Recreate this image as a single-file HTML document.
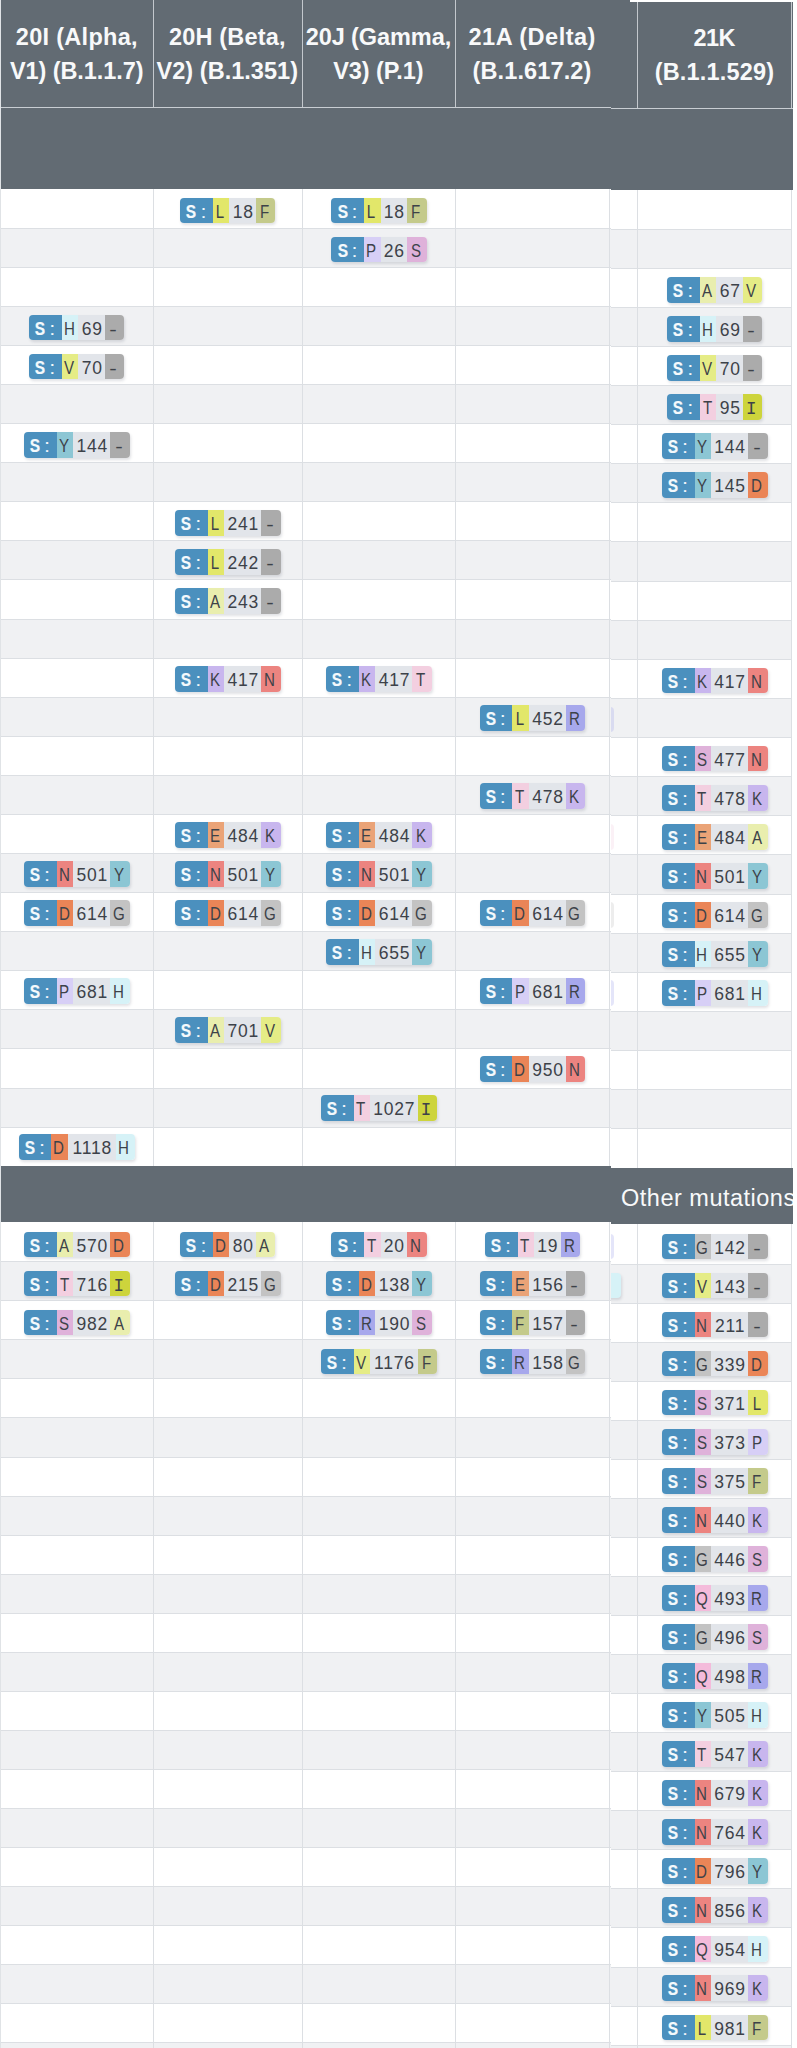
<!DOCTYPE html>
<html><head><meta charset="utf-8"><title>Shared mutations</title>
<style>
html,body{margin:0;padding:0;background:#fff;}
body{width:797px;height:2048px;position:relative;overflow:hidden;font-family:"Liberation Sans",sans-serif;}
.p{position:absolute;top:0;height:2048px;overflow:hidden;}
.r{position:absolute;left:0;right:0;border-top:1px solid #dcdfe3;box-sizing:border-box;}
.o{background:#f0f1f3;}
.v{position:absolute;width:1px;background:#dcdfe3;}
.h{position:absolute;background:#626b73;}
.hl{position:absolute;height:1px;background:#c9ced3;}
.hv{position:absolute;width:1px;background:#c3c8cd;}
.t{position:absolute;color:#f8f9fa;font-weight:bold;font-size:23.5px;line-height:34.6px;text-align:center;white-space:nowrap;}
.b{position:absolute;height:25.8px;display:flex;border-radius:4px;box-shadow:1px 2px 3px rgba(60,70,90,.16);font-size:17.5px;line-height:29.8px;color:#3d4249;overflow:hidden;}
.b span{display:block;height:100%;text-align:center;flex:none;}
.g{background:#4b90be;color:#f4f9fc;font-weight:normal;-webkit-text-stroke:.2px #f4f9fc;position:relative;font-size:18px;line-height:29.5px;}
.g b{position:absolute;left:4.2px;top:0;width:14px;text-align:center;transform:scaleX(.86);}
.g i{position:absolute;left:19.1px;top:0;width:8px;text-align:center;font-style:normal;}
.n{background:#e2e5ea;letter-spacing:.77px;box-sizing:border-box;padding-left:1px;}
.a{box-sizing:border-box;padding-right:1.8px;font-size:18px;line-height:29.1px;}
.z{padding-right:2.6px;}
.z em{font-style:normal;display:inline-block;position:relative;top:1px;transform:scaleX(1.25);}
.a u{display:inline-block;text-decoration:none;transform:scaleX(.84);}
.a u.m{font-family:"Liberation Mono",monospace;transform:none;font-size:17.5px;}
</style></head><body>

<div class="p" style="left:0;width:611px">
<div class="r" style="top:188.60px;height:39.68px;border-top-color:transparent"></div><div class="r o" style="top:227.68px;height:39.68px"></div><div class="r" style="top:266.77px;height:39.68px"></div><div class="r o" style="top:305.85px;height:39.68px"></div><div class="r" style="top:344.93px;height:39.68px"></div><div class="r o" style="top:384.01px;height:39.68px"></div><div class="r" style="top:423.10px;height:39.68px"></div><div class="r o" style="top:462.18px;height:39.68px"></div><div class="r" style="top:501.26px;height:39.68px"></div><div class="r o" style="top:540.35px;height:39.68px"></div><div class="r" style="top:579.43px;height:39.68px"></div><div class="r o" style="top:618.51px;height:39.68px"></div><div class="r" style="top:657.60px;height:39.68px"></div><div class="r o" style="top:696.68px;height:39.68px"></div><div class="r" style="top:735.76px;height:39.68px"></div><div class="r o" style="top:774.85px;height:39.68px"></div><div class="r" style="top:813.93px;height:39.68px"></div><div class="r o" style="top:853.01px;height:39.68px"></div><div class="r" style="top:892.09px;height:39.68px"></div><div class="r o" style="top:931.18px;height:39.68px"></div><div class="r" style="top:970.26px;height:39.68px"></div><div class="r o" style="top:1009.34px;height:39.68px"></div><div class="r" style="top:1048.43px;height:39.68px"></div><div class="r o" style="top:1087.51px;height:39.68px"></div><div class="r" style="top:1126.59px;height:39.68px"></div>
<div class="r" style="top:1222.15px;height:39.66px;border-top-color:transparent"></div><div class="r o" style="top:1261.21px;height:39.66px"></div><div class="r" style="top:1300.27px;height:39.66px"></div><div class="r o" style="top:1339.33px;height:39.66px"></div><div class="r" style="top:1378.39px;height:39.66px"></div><div class="r o" style="top:1417.45px;height:39.66px"></div><div class="r" style="top:1456.51px;height:39.66px"></div><div class="r o" style="top:1495.57px;height:39.66px"></div><div class="r" style="top:1534.63px;height:39.66px"></div><div class="r o" style="top:1573.69px;height:39.66px"></div><div class="r" style="top:1612.75px;height:39.66px"></div><div class="r o" style="top:1651.81px;height:39.66px"></div><div class="r" style="top:1690.87px;height:39.66px"></div><div class="r o" style="top:1729.93px;height:39.66px"></div><div class="r" style="top:1768.99px;height:39.66px"></div><div class="r o" style="top:1808.05px;height:39.66px"></div><div class="r" style="top:1847.11px;height:39.66px"></div><div class="r o" style="top:1886.17px;height:39.66px"></div><div class="r" style="top:1925.23px;height:39.66px"></div><div class="r o" style="top:1964.29px;height:39.66px"></div><div class="r" style="top:2003.35px;height:39.66px"></div><div class="r o" style="top:2042.41px;height:39.66px"></div>
<div class="v" style="left:153.0px;top:0;height:2048px"></div>
<div class="v" style="left:302.2px;top:0;height:2048px"></div>
<div class="v" style="left:455.3px;top:0;height:2048px"></div>
<div class="v" style="left:609.2px;top:0;height:2048px"></div>
<div class="h" style="left:0;top:0;width:611px;height:188.6px"></div>
<div class="hl" style="left:0;top:106.5px;width:611px"></div>
<div class="hv" style="left:153.0px;top:0;height:107px"></div>
<div class="hv" style="left:302.2px;top:0;height:107px"></div>
<div class="hv" style="left:455.3px;top:0;height:107px"></div>
<div class="h" style="left:0;top:1166.4px;width:611px;height:55.84999999999991px"></div>
<div class="t" style="left:0.8px;width:151.9px;top:19.5px"><span style="letter-spacing:0.3px;margin-right:-0.3px">20I (Alpha,</span><br><span style="letter-spacing:-0.08px;margin-right:0.08px">V1) (B.1.1.7)</span></div>
<div class="t" style="left:152.7px;width:149.2px;top:19.5px"><span style="letter-spacing:0.2px;margin-right:-0.2px">20H (Beta,</span><br><span style="letter-spacing:0.03px;margin-right:-0.03px">V2) (B.1.351)</span></div>
<div class="t" style="left:301.9px;width:153.1px;top:19.5px"><span style="letter-spacing:-0.08px;margin-right:0.08px">20J (Gamma,</span><br><span style="letter-spacing:-0.08px;margin-right:0.08px">V3) (P.1)</span></div>
<div class="t" style="left:455.0px;width:153.9px;top:19.5px"><span style="letter-spacing:0.5px;margin-right:-0.5px">21A (Delta)</span><br><span style="letter-spacing:0.12px;margin-right:-0.12px">(B.1.617.2)</span></div>
<div class="b" style="left:180.3px;top:197.6px;width:95.2px"><span class="g" style="width:32.7px"><b>S</b><i>:</i></span><span class="a" style="width:16.5px;background:#e2e76a"><u>L</u></span><span class="n" style="width:26.6px">18</span><span class="a z" style="width:19.4px;background:#c4ca8b"><u>F</u></span></div>
<div class="b" style="left:331.4px;top:197.6px;width:95.2px"><span class="g" style="width:32.7px"><b>S</b><i>:</i></span><span class="a" style="width:16.5px;background:#e2e76a"><u>L</u></span><span class="n" style="width:26.6px">18</span><span class="a z" style="width:19.4px;background:#c4ca8b"><u>F</u></span></div>
<div class="b" style="left:331.4px;top:236.6px;width:95.2px"><span class="g" style="width:32.7px"><b>S</b><i>:</i></span><span class="a" style="width:16.5px;background:#d7cff6"><u>P</u></span><span class="n" style="width:26.6px">26</span><span class="a z" style="width:19.4px;background:#dfb2da"><u>S</u></span></div>
<div class="b" style="left:29.2px;top:314.7px;width:95.2px"><span class="g" style="width:32.7px"><b>S</b><i>:</i></span><span class="a" style="width:16.5px;background:#d6f2f7"><u>H</u></span><span class="n" style="width:26.6px">69</span><span class="a z" style="width:19.4px;background:#ababab"><em>-</em></span></div>
<div class="b" style="left:29.2px;top:353.7px;width:95.2px"><span class="g" style="width:32.7px"><b>S</b><i>:</i></span><span class="a" style="width:16.5px;background:#e5ec86"><u>V</u></span><span class="n" style="width:26.6px">70</span><span class="a z" style="width:19.4px;background:#ababab"><em>-</em></span></div>
<div class="b" style="left:24.0px;top:431.8px;width:105.7px"><span class="g" style="width:32.7px"><b>S</b><i>:</i></span><span class="a" style="width:16.5px;background:#8cc6d4"><u>Y</u></span><span class="n" style="width:37.1px">144</span><span class="a z" style="width:19.4px;background:#ababab"><em>-</em></span></div>
<div class="b" style="left:175.1px;top:509.8px;width:105.7px"><span class="g" style="width:32.7px"><b>S</b><i>:</i></span><span class="a" style="width:16.5px;background:#e2e76a"><u>L</u></span><span class="n" style="width:37.1px">241</span><span class="a z" style="width:19.4px;background:#ababab"><em>-</em></span></div>
<div class="b" style="left:175.1px;top:548.9px;width:105.7px"><span class="g" style="width:32.7px"><b>S</b><i>:</i></span><span class="a" style="width:16.5px;background:#e2e76a"><u>L</u></span><span class="n" style="width:37.1px">242</span><span class="a z" style="width:19.4px;background:#ababab"><em>-</em></span></div>
<div class="b" style="left:175.1px;top:587.9px;width:105.7px"><span class="g" style="width:32.7px"><b>S</b><i>:</i></span><span class="a" style="width:16.5px;background:#e9eeae"><u>A</u></span><span class="n" style="width:37.1px">243</span><span class="a z" style="width:19.4px;background:#ababab"><em>-</em></span></div>
<div class="b" style="left:175.1px;top:666.0px;width:105.7px"><span class="g" style="width:32.7px"><b>S</b><i>:</i></span><span class="a" style="width:16.5px;background:#c8b6ee"><u>K</u></span><span class="n" style="width:37.1px">417</span><span class="a z" style="width:19.4px;background:#ec8480"><u>N</u></span></div>
<div class="b" style="left:326.2px;top:666.0px;width:105.7px"><span class="g" style="width:32.7px"><b>S</b><i>:</i></span><span class="a" style="width:16.5px;background:#c8b6ee"><u>K</u></span><span class="n" style="width:37.1px">417</span><span class="a z" style="width:19.4px;background:#f3cfe0"><u>T</u></span></div>
<div class="b" style="left:479.7px;top:705.0px;width:105.7px"><span class="g" style="width:32.7px"><b>S</b><i>:</i></span><span class="a" style="width:16.5px;background:#e2e76a"><u>L</u></span><span class="n" style="width:37.1px">452</span><span class="a z" style="width:19.4px;background:#a7a8ec"><u>R</u></span></div>
<div class="b" style="left:479.7px;top:783.1px;width:105.7px"><span class="g" style="width:32.7px"><b>S</b><i>:</i></span><span class="a" style="width:16.5px;background:#f3cfe0"><u>T</u></span><span class="n" style="width:37.1px">478</span><span class="a z" style="width:19.4px;background:#c8b6ee"><u>K</u></span></div>
<div class="b" style="left:175.1px;top:822.1px;width:105.7px"><span class="g" style="width:32.7px"><b>S</b><i>:</i></span><span class="a" style="width:16.5px;background:#eaa377"><u>E</u></span><span class="n" style="width:37.1px">484</span><span class="a z" style="width:19.4px;background:#c8b6ee"><u>K</u></span></div>
<div class="b" style="left:326.2px;top:822.1px;width:105.7px"><span class="g" style="width:32.7px"><b>S</b><i>:</i></span><span class="a" style="width:16.5px;background:#eaa377"><u>E</u></span><span class="n" style="width:37.1px">484</span><span class="a z" style="width:19.4px;background:#c8b6ee"><u>K</u></span></div>
<div class="b" style="left:24.0px;top:861.1px;width:105.7px"><span class="g" style="width:32.7px"><b>S</b><i>:</i></span><span class="a" style="width:16.5px;background:#ec8480"><u>N</u></span><span class="n" style="width:37.1px">501</span><span class="a z" style="width:19.4px;background:#8cc6d4"><u>Y</u></span></div>
<div class="b" style="left:175.1px;top:861.1px;width:105.7px"><span class="g" style="width:32.7px"><b>S</b><i>:</i></span><span class="a" style="width:16.5px;background:#ec8480"><u>N</u></span><span class="n" style="width:37.1px">501</span><span class="a z" style="width:19.4px;background:#8cc6d4"><u>Y</u></span></div>
<div class="b" style="left:326.2px;top:861.1px;width:105.7px"><span class="g" style="width:32.7px"><b>S</b><i>:</i></span><span class="a" style="width:16.5px;background:#ec8480"><u>N</u></span><span class="n" style="width:37.1px">501</span><span class="a z" style="width:19.4px;background:#8cc6d4"><u>Y</u></span></div>
<div class="b" style="left:24.0px;top:900.1px;width:105.7px"><span class="g" style="width:32.7px"><b>S</b><i>:</i></span><span class="a" style="width:16.5px;background:#ea8557"><u>D</u></span><span class="n" style="width:37.1px">614</span><span class="a z" style="width:19.4px;background:#c3c3c3"><u>G</u></span></div>
<div class="b" style="left:175.1px;top:900.1px;width:105.7px"><span class="g" style="width:32.7px"><b>S</b><i>:</i></span><span class="a" style="width:16.5px;background:#ea8557"><u>D</u></span><span class="n" style="width:37.1px">614</span><span class="a z" style="width:19.4px;background:#c3c3c3"><u>G</u></span></div>
<div class="b" style="left:326.2px;top:900.1px;width:105.7px"><span class="g" style="width:32.7px"><b>S</b><i>:</i></span><span class="a" style="width:16.5px;background:#ea8557"><u>D</u></span><span class="n" style="width:37.1px">614</span><span class="a z" style="width:19.4px;background:#c3c3c3"><u>G</u></span></div>
<div class="b" style="left:479.7px;top:900.1px;width:105.7px"><span class="g" style="width:32.7px"><b>S</b><i>:</i></span><span class="a" style="width:16.5px;background:#ea8557"><u>D</u></span><span class="n" style="width:37.1px">614</span><span class="a z" style="width:19.4px;background:#c3c3c3"><u>G</u></span></div>
<div class="b" style="left:326.2px;top:939.2px;width:105.7px"><span class="g" style="width:32.7px"><b>S</b><i>:</i></span><span class="a" style="width:16.5px;background:#d6f2f7"><u>H</u></span><span class="n" style="width:37.1px">655</span><span class="a z" style="width:19.4px;background:#8cc6d4"><u>Y</u></span></div>
<div class="b" style="left:24.0px;top:978.2px;width:105.7px"><span class="g" style="width:32.7px"><b>S</b><i>:</i></span><span class="a" style="width:16.5px;background:#d7cff6"><u>P</u></span><span class="n" style="width:37.1px">681</span><span class="a z" style="width:19.4px;background:#d6f2f7"><u>H</u></span></div>
<div class="b" style="left:479.7px;top:978.2px;width:105.7px"><span class="g" style="width:32.7px"><b>S</b><i>:</i></span><span class="a" style="width:16.5px;background:#d7cff6"><u>P</u></span><span class="n" style="width:37.1px">681</span><span class="a z" style="width:19.4px;background:#a7a8ec"><u>R</u></span></div>
<div class="b" style="left:175.1px;top:1017.2px;width:105.7px"><span class="g" style="width:32.7px"><b>S</b><i>:</i></span><span class="a" style="width:16.5px;background:#e9eeae"><u>A</u></span><span class="n" style="width:37.1px">701</span><span class="a z" style="width:19.4px;background:#e5ec86"><u>V</u></span></div>
<div class="b" style="left:479.7px;top:1056.3px;width:105.7px"><span class="g" style="width:32.7px"><b>S</b><i>:</i></span><span class="a" style="width:16.5px;background:#ea8557"><u>D</u></span><span class="n" style="width:37.1px">950</span><span class="a z" style="width:19.4px;background:#ec8480"><u>N</u></span></div>
<div class="b" style="left:320.9px;top:1095.3px;width:116.2px"><span class="g" style="width:32.7px"><b>S</b><i>:</i></span><span class="a" style="width:16.5px;background:#f3cfe0"><u>T</u></span><span class="n" style="width:47.6px">1027</span><span class="a z" style="width:19.4px;background:#cdd43c"><u class=m>I</u></span></div>
<div class="b" style="left:18.8px;top:1134.3px;width:116.2px"><span class="g" style="width:32.7px"><b>S</b><i>:</i></span><span class="a" style="width:16.5px;background:#ea8557"><u>D</u></span><span class="n" style="width:47.6px">1118</span><span class="a z" style="width:19.4px;background:#d6f2f7"><u>H</u></span></div>
<div class="b" style="left:24.0px;top:1231.6px;width:105.7px"><span class="g" style="width:32.7px"><b>S</b><i>:</i></span><span class="a" style="width:16.5px;background:#e9eeae"><u>A</u></span><span class="n" style="width:37.1px">570</span><span class="a z" style="width:19.4px;background:#ea8557"><u>D</u></span></div>
<div class="b" style="left:180.3px;top:1231.6px;width:95.2px"><span class="g" style="width:32.7px"><b>S</b><i>:</i></span><span class="a" style="width:16.5px;background:#ea8557"><u>D</u></span><span class="n" style="width:26.6px">80</span><span class="a z" style="width:19.4px;background:#e9eeae"><u>A</u></span></div>
<div class="b" style="left:331.4px;top:1231.6px;width:95.2px"><span class="g" style="width:32.7px"><b>S</b><i>:</i></span><span class="a" style="width:16.5px;background:#f3cfe0"><u>T</u></span><span class="n" style="width:26.6px">20</span><span class="a z" style="width:19.4px;background:#ec8480"><u>N</u></span></div>
<div class="b" style="left:484.9px;top:1231.6px;width:95.2px"><span class="g" style="width:32.7px"><b>S</b><i>:</i></span><span class="a" style="width:16.5px;background:#f3cfe0"><u>T</u></span><span class="n" style="width:26.6px">19</span><span class="a z" style="width:19.4px;background:#a7a8ec"><u>R</u></span></div>
<div class="b" style="left:24.0px;top:1270.6px;width:105.7px"><span class="g" style="width:32.7px"><b>S</b><i>:</i></span><span class="a" style="width:16.5px;background:#f3cfe0"><u>T</u></span><span class="n" style="width:37.1px">716</span><span class="a z" style="width:19.4px;background:#cdd43c"><u class=m>I</u></span></div>
<div class="b" style="left:175.1px;top:1270.6px;width:105.7px"><span class="g" style="width:32.7px"><b>S</b><i>:</i></span><span class="a" style="width:16.5px;background:#ea8557"><u>D</u></span><span class="n" style="width:37.1px">215</span><span class="a z" style="width:19.4px;background:#c3c3c3"><u>G</u></span></div>
<div class="b" style="left:326.2px;top:1270.6px;width:105.7px"><span class="g" style="width:32.7px"><b>S</b><i>:</i></span><span class="a" style="width:16.5px;background:#ea8557"><u>D</u></span><span class="n" style="width:37.1px">138</span><span class="a z" style="width:19.4px;background:#8cc6d4"><u>Y</u></span></div>
<div class="b" style="left:479.7px;top:1270.6px;width:105.7px"><span class="g" style="width:32.7px"><b>S</b><i>:</i></span><span class="a" style="width:16.5px;background:#eaa377"><u>E</u></span><span class="n" style="width:37.1px">156</span><span class="a z" style="width:19.4px;background:#ababab"><em>-</em></span></div>
<div class="b" style="left:24.0px;top:1309.7px;width:105.7px"><span class="g" style="width:32.7px"><b>S</b><i>:</i></span><span class="a" style="width:16.5px;background:#dfb2da"><u>S</u></span><span class="n" style="width:37.1px">982</span><span class="a z" style="width:19.4px;background:#e9eeae"><u>A</u></span></div>
<div class="b" style="left:326.2px;top:1309.7px;width:105.7px"><span class="g" style="width:32.7px"><b>S</b><i>:</i></span><span class="a" style="width:16.5px;background:#a7a8ec"><u>R</u></span><span class="n" style="width:37.1px">190</span><span class="a z" style="width:19.4px;background:#dfb2da"><u>S</u></span></div>
<div class="b" style="left:479.7px;top:1309.7px;width:105.7px"><span class="g" style="width:32.7px"><b>S</b><i>:</i></span><span class="a" style="width:16.5px;background:#c4ca8b"><u>F</u></span><span class="n" style="width:37.1px">157</span><span class="a z" style="width:19.4px;background:#ababab"><em>-</em></span></div>
<div class="b" style="left:320.9px;top:1348.7px;width:116.2px"><span class="g" style="width:32.7px"><b>S</b><i>:</i></span><span class="a" style="width:16.5px;background:#e5ec86"><u>V</u></span><span class="n" style="width:47.6px">1176</span><span class="a z" style="width:19.4px;background:#c4ca8b"><u>F</u></span></div>
<div class="b" style="left:479.7px;top:1348.7px;width:105.7px"><span class="g" style="width:32.7px"><b>S</b><i>:</i></span><span class="a" style="width:16.5px;background:#a7a8ec"><u>R</u></span><span class="n" style="width:37.1px">158</span><span class="a z" style="width:19.4px;background:#c3c3c3"><u>G</u></span></div>
<div style="position:absolute;left:0;top:0;width:1.2px;height:2048px;background:#e0e3e6"></div>
</div>
<div class="p" style="left:611px;width:186px">
<div class="r" style="top:189.40px;height:39.72px;border-top-color:transparent"></div><div class="r o" style="top:228.52px;height:39.72px"></div><div class="r" style="top:267.64px;height:39.72px"></div><div class="r o" style="top:306.76px;height:39.72px"></div><div class="r" style="top:345.88px;height:39.72px"></div><div class="r o" style="top:385.00px;height:39.72px"></div><div class="r" style="top:424.12px;height:39.72px"></div><div class="r o" style="top:463.24px;height:39.72px"></div><div class="r" style="top:502.36px;height:39.72px"></div><div class="r o" style="top:541.48px;height:39.72px"></div><div class="r" style="top:580.60px;height:39.72px"></div><div class="r o" style="top:619.72px;height:39.72px"></div><div class="r" style="top:658.84px;height:39.72px"></div><div class="r o" style="top:697.96px;height:39.72px"></div><div class="r" style="top:737.08px;height:39.72px"></div><div class="r o" style="top:776.20px;height:39.72px"></div><div class="r" style="top:815.32px;height:39.72px"></div><div class="r o" style="top:854.44px;height:39.72px"></div><div class="r" style="top:893.56px;height:39.72px"></div><div class="r o" style="top:932.68px;height:39.72px"></div><div class="r" style="top:971.80px;height:39.72px"></div><div class="r o" style="top:1010.92px;height:39.72px"></div><div class="r" style="top:1050.04px;height:39.72px"></div><div class="r o" style="top:1089.16px;height:39.72px"></div><div class="r" style="top:1128.28px;height:39.72px"></div>
<div class="r" style="top:1224.55px;height:39.65px;border-top-color:transparent"></div><div class="r o" style="top:1263.60px;height:39.65px"></div><div class="r" style="top:1302.65px;height:39.65px"></div><div class="r o" style="top:1341.70px;height:39.65px"></div><div class="r" style="top:1380.75px;height:39.65px"></div><div class="r o" style="top:1419.80px;height:39.65px"></div><div class="r" style="top:1458.85px;height:39.65px"></div><div class="r o" style="top:1497.90px;height:39.65px"></div><div class="r" style="top:1536.95px;height:39.65px"></div><div class="r o" style="top:1576.00px;height:39.65px"></div><div class="r" style="top:1615.05px;height:39.65px"></div><div class="r o" style="top:1654.10px;height:39.65px"></div><div class="r" style="top:1693.15px;height:39.65px"></div><div class="r o" style="top:1732.20px;height:39.65px"></div><div class="r" style="top:1771.25px;height:39.65px"></div><div class="r o" style="top:1810.30px;height:39.65px"></div><div class="r" style="top:1849.35px;height:39.65px"></div><div class="r o" style="top:1888.40px;height:39.65px"></div><div class="r" style="top:1927.45px;height:39.65px"></div><div class="r o" style="top:1966.50px;height:39.65px"></div><div class="r" style="top:2005.55px;height:39.65px"></div><div class="r o" style="top:2044.60px;height:39.65px"></div>
<div class="v" style="left:26.0px;top:0;height:2048px"></div>
<div class="v" style="left:180.2px;top:0;height:2048px"></div>
<div style="position:absolute;left:181.2px;top:0;width:10px;height:2048px;background:#fff"></div>
<div class="h" style="left:0;top:0;width:182px;height:189.8px"></div>
<div class="hl" style="left:0;top:107.8px;width:182px"></div>
<div class="hv" style="left:26.0px;top:0;height:108px"></div>
<div class="hv" style="left:180.2px;top:0;height:108px"></div>
<div style="position:absolute;left:19px;top:0;width:200px;height:2px;background:#fff"></div>
<div class="h" style="left:0;top:1168.4px;width:182px;height:55.9px;overflow:hidden"><div style="position:absolute;left:10px;top:12.3px;color:#f8f9fa;font-size:23.5px;letter-spacing:.5px;white-space:nowrap;line-height:34px">Other mutations</div></div>
<div class="t" style="left:26.4px;width:154.1px;top:20.7px"><span style="letter-spacing:-0.5px;margin-right:0.5px">21K</span><br><span style="letter-spacing:0.2px;margin-right:-0.2px">(B.1.1.529)</span></div>
<div class="b" style="left:56.2px;top:277.0px;width:95.2px"><span class="g" style="width:32.7px"><b>S</b><i>:</i></span><span class="a" style="width:16.5px;background:#e9eeae"><u>A</u></span><span class="n" style="width:26.6px">67</span><span class="a z" style="width:19.4px;background:#e5ec86"><u>V</u></span></div>
<div class="b" style="left:56.2px;top:316.1px;width:95.2px"><span class="g" style="width:32.7px"><b>S</b><i>:</i></span><span class="a" style="width:16.5px;background:#d6f2f7"><u>H</u></span><span class="n" style="width:26.6px">69</span><span class="a z" style="width:19.4px;background:#ababab"><em>-</em></span></div>
<div class="b" style="left:56.2px;top:355.1px;width:95.2px"><span class="g" style="width:32.7px"><b>S</b><i>:</i></span><span class="a" style="width:16.5px;background:#e5ec86"><u>V</u></span><span class="n" style="width:26.6px">70</span><span class="a z" style="width:19.4px;background:#ababab"><em>-</em></span></div>
<div class="b" style="left:56.2px;top:394.2px;width:95.2px"><span class="g" style="width:32.7px"><b>S</b><i>:</i></span><span class="a" style="width:16.5px;background:#f3cfe0"><u>T</u></span><span class="n" style="width:26.6px">95</span><span class="a z" style="width:19.4px;background:#cdd43c"><u class=m>I</u></span></div>
<div class="b" style="left:50.9px;top:433.3px;width:105.7px"><span class="g" style="width:32.7px"><b>S</b><i>:</i></span><span class="a" style="width:16.5px;background:#8cc6d4"><u>Y</u></span><span class="n" style="width:37.1px">144</span><span class="a z" style="width:19.4px;background:#ababab"><em>-</em></span></div>
<div class="b" style="left:50.9px;top:472.3px;width:105.7px"><span class="g" style="width:32.7px"><b>S</b><i>:</i></span><span class="a" style="width:16.5px;background:#8cc6d4"><u>Y</u></span><span class="n" style="width:37.1px">145</span><span class="a z" style="width:19.4px;background:#ea8557"><u>D</u></span></div>
<div class="b" style="left:50.9px;top:667.6px;width:105.7px"><span class="g" style="width:32.7px"><b>S</b><i>:</i></span><span class="a" style="width:16.5px;background:#c8b6ee"><u>K</u></span><span class="n" style="width:37.1px">417</span><span class="a z" style="width:19.4px;background:#ec8480"><u>N</u></span></div>
<div class="b" style="left:50.9px;top:745.7px;width:105.7px"><span class="g" style="width:32.7px"><b>S</b><i>:</i></span><span class="a" style="width:16.5px;background:#dfb2da"><u>S</u></span><span class="n" style="width:37.1px">477</span><span class="a z" style="width:19.4px;background:#ec8480"><u>N</u></span></div>
<div class="b" style="left:50.9px;top:784.8px;width:105.7px"><span class="g" style="width:32.7px"><b>S</b><i>:</i></span><span class="a" style="width:16.5px;background:#f3cfe0"><u>T</u></span><span class="n" style="width:37.1px">478</span><span class="a z" style="width:19.4px;background:#c8b6ee"><u>K</u></span></div>
<div class="b" style="left:50.9px;top:823.9px;width:105.7px"><span class="g" style="width:32.7px"><b>S</b><i>:</i></span><span class="a" style="width:16.5px;background:#eaa377"><u>E</u></span><span class="n" style="width:37.1px">484</span><span class="a z" style="width:19.4px;background:#e9eeae"><u>A</u></span></div>
<div class="b" style="left:50.9px;top:862.9px;width:105.7px"><span class="g" style="width:32.7px"><b>S</b><i>:</i></span><span class="a" style="width:16.5px;background:#ec8480"><u>N</u></span><span class="n" style="width:37.1px">501</span><span class="a z" style="width:19.4px;background:#8cc6d4"><u>Y</u></span></div>
<div class="b" style="left:50.9px;top:902.0px;width:105.7px"><span class="g" style="width:32.7px"><b>S</b><i>:</i></span><span class="a" style="width:16.5px;background:#ea8557"><u>D</u></span><span class="n" style="width:37.1px">614</span><span class="a z" style="width:19.4px;background:#c3c3c3"><u>G</u></span></div>
<div class="b" style="left:50.9px;top:941.0px;width:105.7px"><span class="g" style="width:32.7px"><b>S</b><i>:</i></span><span class="a" style="width:16.5px;background:#d6f2f7"><u>H</u></span><span class="n" style="width:37.1px">655</span><span class="a z" style="width:19.4px;background:#8cc6d4"><u>Y</u></span></div>
<div class="b" style="left:50.9px;top:980.1px;width:105.7px"><span class="g" style="width:32.7px"><b>S</b><i>:</i></span><span class="a" style="width:16.5px;background:#d7cff6"><u>P</u></span><span class="n" style="width:37.1px">681</span><span class="a z" style="width:19.4px;background:#d6f2f7"><u>H</u></span></div>
<div class="b" style="left:50.9px;top:1233.5px;width:105.7px"><span class="g" style="width:32.7px"><b>S</b><i>:</i></span><span class="a" style="width:16.5px;background:#c3c3c3"><u>G</u></span><span class="n" style="width:37.1px">142</span><span class="a z" style="width:19.4px;background:#ababab"><em>-</em></span></div>
<div class="b" style="left:50.9px;top:1272.5px;width:105.7px"><span class="g" style="width:32.7px"><b>S</b><i>:</i></span><span class="a" style="width:16.5px;background:#e5ec86"><u>V</u></span><span class="n" style="width:37.1px">143</span><span class="a z" style="width:19.4px;background:#ababab"><em>-</em></span></div>
<div class="b" style="left:50.9px;top:1311.6px;width:105.7px"><span class="g" style="width:32.7px"><b>S</b><i>:</i></span><span class="a" style="width:16.5px;background:#ec8480"><u>N</u></span><span class="n" style="width:37.1px">211</span><span class="a z" style="width:19.4px;background:#ababab"><em>-</em></span></div>
<div class="b" style="left:50.9px;top:1350.7px;width:105.7px"><span class="g" style="width:32.7px"><b>S</b><i>:</i></span><span class="a" style="width:16.5px;background:#c3c3c3"><u>G</u></span><span class="n" style="width:37.1px">339</span><span class="a z" style="width:19.4px;background:#ea8557"><u>D</u></span></div>
<div class="b" style="left:50.9px;top:1389.7px;width:105.7px"><span class="g" style="width:32.7px"><b>S</b><i>:</i></span><span class="a" style="width:16.5px;background:#dfb2da"><u>S</u></span><span class="n" style="width:37.1px">371</span><span class="a z" style="width:19.4px;background:#e2e76a"><u>L</u></span></div>
<div class="b" style="left:50.9px;top:1428.8px;width:105.7px"><span class="g" style="width:32.7px"><b>S</b><i>:</i></span><span class="a" style="width:16.5px;background:#dfb2da"><u>S</u></span><span class="n" style="width:37.1px">373</span><span class="a z" style="width:19.4px;background:#d7cff6"><u>P</u></span></div>
<div class="b" style="left:50.9px;top:1467.8px;width:105.7px"><span class="g" style="width:32.7px"><b>S</b><i>:</i></span><span class="a" style="width:16.5px;background:#dfb2da"><u>S</u></span><span class="n" style="width:37.1px">375</span><span class="a z" style="width:19.4px;background:#c4ca8b"><u>F</u></span></div>
<div class="b" style="left:50.9px;top:1506.8px;width:105.7px"><span class="g" style="width:32.7px"><b>S</b><i>:</i></span><span class="a" style="width:16.5px;background:#ec8480"><u>N</u></span><span class="n" style="width:37.1px">440</span><span class="a z" style="width:19.4px;background:#c8b6ee"><u>K</u></span></div>
<div class="b" style="left:50.9px;top:1545.9px;width:105.7px"><span class="g" style="width:32.7px"><b>S</b><i>:</i></span><span class="a" style="width:16.5px;background:#c3c3c3"><u>G</u></span><span class="n" style="width:37.1px">446</span><span class="a z" style="width:19.4px;background:#dfb2da"><u>S</u></span></div>
<div class="b" style="left:50.9px;top:1585.0px;width:105.7px"><span class="g" style="width:32.7px"><b>S</b><i>:</i></span><span class="a" style="width:16.5px;background:#f4bbdb"><u>Q</u></span><span class="n" style="width:37.1px">493</span><span class="a z" style="width:19.4px;background:#a7a8ec"><u>R</u></span></div>
<div class="b" style="left:50.9px;top:1624.0px;width:105.7px"><span class="g" style="width:32.7px"><b>S</b><i>:</i></span><span class="a" style="width:16.5px;background:#c3c3c3"><u>G</u></span><span class="n" style="width:37.1px">496</span><span class="a z" style="width:19.4px;background:#dfb2da"><u>S</u></span></div>
<div class="b" style="left:50.9px;top:1663.0px;width:105.7px"><span class="g" style="width:32.7px"><b>S</b><i>:</i></span><span class="a" style="width:16.5px;background:#f4bbdb"><u>Q</u></span><span class="n" style="width:37.1px">498</span><span class="a z" style="width:19.4px;background:#a7a8ec"><u>R</u></span></div>
<div class="b" style="left:50.9px;top:1702.1px;width:105.7px"><span class="g" style="width:32.7px"><b>S</b><i>:</i></span><span class="a" style="width:16.5px;background:#8cc6d4"><u>Y</u></span><span class="n" style="width:37.1px">505</span><span class="a z" style="width:19.4px;background:#d6f2f7"><u>H</u></span></div>
<div class="b" style="left:50.9px;top:1741.2px;width:105.7px"><span class="g" style="width:32.7px"><b>S</b><i>:</i></span><span class="a" style="width:16.5px;background:#f3cfe0"><u>T</u></span><span class="n" style="width:37.1px">547</span><span class="a z" style="width:19.4px;background:#c8b6ee"><u>K</u></span></div>
<div class="b" style="left:50.9px;top:1780.2px;width:105.7px"><span class="g" style="width:32.7px"><b>S</b><i>:</i></span><span class="a" style="width:16.5px;background:#ec8480"><u>N</u></span><span class="n" style="width:37.1px">679</span><span class="a z" style="width:19.4px;background:#c8b6ee"><u>K</u></span></div>
<div class="b" style="left:50.9px;top:1819.2px;width:105.7px"><span class="g" style="width:32.7px"><b>S</b><i>:</i></span><span class="a" style="width:16.5px;background:#ec8480"><u>N</u></span><span class="n" style="width:37.1px">764</span><span class="a z" style="width:19.4px;background:#c8b6ee"><u>K</u></span></div>
<div class="b" style="left:50.9px;top:1858.3px;width:105.7px"><span class="g" style="width:32.7px"><b>S</b><i>:</i></span><span class="a" style="width:16.5px;background:#ea8557"><u>D</u></span><span class="n" style="width:37.1px">796</span><span class="a z" style="width:19.4px;background:#8cc6d4"><u>Y</u></span></div>
<div class="b" style="left:50.9px;top:1897.3px;width:105.7px"><span class="g" style="width:32.7px"><b>S</b><i>:</i></span><span class="a" style="width:16.5px;background:#ec8480"><u>N</u></span><span class="n" style="width:37.1px">856</span><span class="a z" style="width:19.4px;background:#c8b6ee"><u>K</u></span></div>
<div class="b" style="left:50.9px;top:1936.4px;width:105.7px"><span class="g" style="width:32.7px"><b>S</b><i>:</i></span><span class="a" style="width:16.5px;background:#f4bbdb"><u>Q</u></span><span class="n" style="width:37.1px">954</span><span class="a z" style="width:19.4px;background:#d6f2f7"><u>H</u></span></div>
<div class="b" style="left:50.9px;top:1975.4px;width:105.7px"><span class="g" style="width:32.7px"><b>S</b><i>:</i></span><span class="a" style="width:16.5px;background:#ec8480"><u>N</u></span><span class="n" style="width:37.1px">969</span><span class="a z" style="width:19.4px;background:#c8b6ee"><u>K</u></span></div>
<div class="b" style="left:50.9px;top:2014.5px;width:105.7px"><span class="g" style="width:32.7px"><b>S</b><i>:</i></span><span class="a" style="width:16.5px;background:#e2e76a"><u>L</u></span><span class="n" style="width:37.1px">981</span><span class="a z" style="width:19.4px;background:#c4ca8b"><u>F</u></span></div>
<div style="position:absolute;left:-20px;top:1272.5px;width:30px;height:25.8px;border-radius:4px;background:#d6f2f7;box-shadow:1px 2px 3px rgba(60,70,90,.16)"></div>
<div style="position:absolute;left:-20px;top:706.7px;width:23px;height:25.8px;border-radius:4px;background:#a7a8ec;opacity:.3"></div>
<div style="position:absolute;left:-20px;top:823.9px;width:23px;height:25.8px;border-radius:4px;background:#f3cfe0;opacity:.3"></div>
<div style="position:absolute;left:-20px;top:902.0px;width:23px;height:25.8px;border-radius:4px;background:#c3c3c3;opacity:.3"></div>
<div style="position:absolute;left:-20px;top:980.1px;width:23px;height:25.8px;border-radius:4px;background:#a7a8ec;opacity:.3"></div>
<div style="position:absolute;left:-20px;top:1233.5px;width:23px;height:25.8px;border-radius:4px;background:#a7a8ec;opacity:.3"></div>
</div>
</body></html>
